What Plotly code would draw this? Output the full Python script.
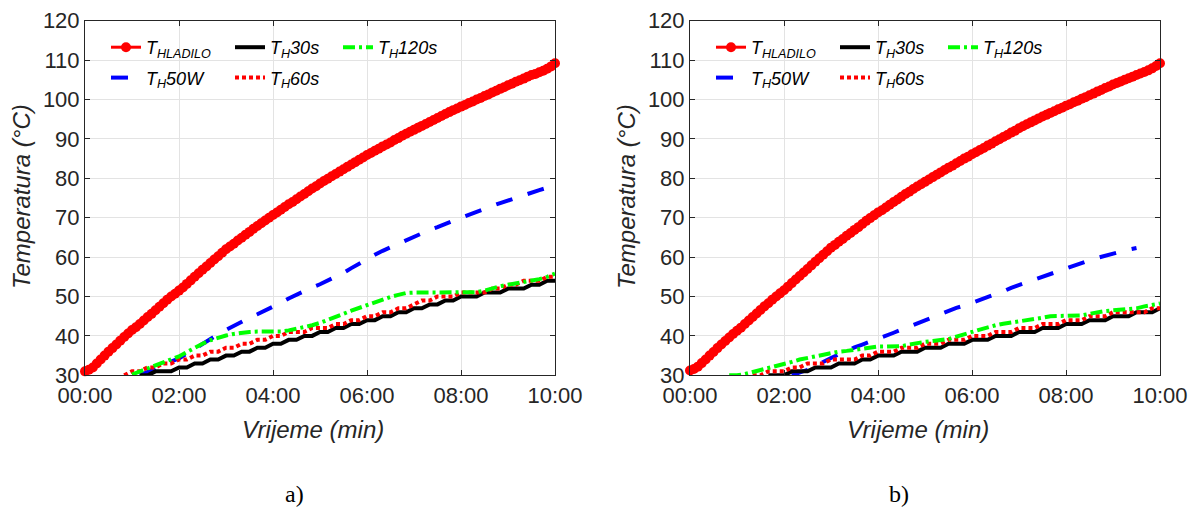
import plotly.graph_objects as go

# ---------------- data (time in seconds, temperature in °C) ----------------
t_sec = list(range(0, 601, 10))      # logging grid of the heater sensors
t_fast = list(range(0, 601, 5))      # logging grid of the cooler sensor
x_tick_vals = [0, 120, 240, 360, 480, 600]
x_tick_text = ["00:00", "02:00", "04:00", "06:00", "08:00", "10:00"]
y_tick_vals = [30, 40, 50, 60, 70, 80, 90, 100, 110, 120]

label_hladilo = "T<sub>HLADILO</sub>"
label_50w = "T<sub>H</sub>50W"
label_30s = "T<sub>H</sub>30s"
label_60s = "T<sub>H</sub>60s"
label_120s = "T<sub>H</sub>120s"

# ---- panel a) ----
a_hladilo = [31.0, 31.4, 32.0, 33.0, 34.0, 35.0, 36.0, 36.9, 37.8, 38.8, 39.7, 40.6,
             41.5, 42.2, 43.0, 43.9, 44.8, 45.6, 46.5, 47.4, 48.3, 49.2, 50.0, 50.7,
             51.5, 52.3, 53.2, 54.1, 55.0, 55.9, 56.8, 57.6, 58.5, 59.4, 60.2, 61.1,
             62.0, 62.7, 63.4, 64.2, 64.9, 65.7, 66.4, 67.2, 67.9, 68.6, 69.3, 70.0,
             70.7, 71.3, 72.0, 72.7, 73.4, 74.0, 74.7, 75.4, 76.0, 76.7, 77.4, 78.0,
             78.7, 79.3, 79.9, 80.5, 81.1, 81.7, 82.3, 82.9, 83.5, 84.1, 84.7, 85.3,
             85.9, 86.4, 87.0, 87.5, 88.1, 88.6, 89.1, 89.7, 90.2, 90.8, 91.3, 91.8,
             92.3, 92.8, 93.3, 93.8, 94.3, 94.8, 95.3, 95.8, 96.3, 96.8, 97.3, 97.7,
             98.2, 98.6, 99.1, 99.5, 100.0, 100.4, 100.9, 101.3, 101.8, 102.2, 102.7, 103.1,
             103.6, 104.0, 104.5, 104.9, 105.3, 105.8, 106.2, 106.5, 106.9, 107.3, 107.8, 108.4,
             109.2]
a_50w = [None] * 7 + [30.0, 30.8, 31.7, 32.6, 33.5, 34.3, 35.5, 36.8, 38.0, 39.2, 40.4, 41.5,
                      42.6, 43.7, 44.6, 45.5, 46.4, 47.3, 48.4, 49.5, 50.5, 51.5, 52.3, 53.1,
                      54.0, 55.0, 56.0, 57.2, 58.4, 59.6, 60.6, 61.6, 62.5, 63.4, 64.4, 65.3,
                      66.1, 66.9, 67.6, 68.3, 69.2, 70.0, 70.8, 71.5, 72.3, 73.0, 73.7, 74.4,
                      75.1, 75.8, 76.4, 77.0, 77.6, 78.2]
a_30s = [None] * 7 + [30, 30, 31, 31, 31, 32, 32, 33, 33, 34, 34, 35, 35, 36, 36, 37, 37, 38,
                      38, 39, 39, 40, 40, 41, 41, 42, 42, 43, 43, 44, 44, 45, 45, 46, 46, 47,
                      47, 48, 48, 49, 49, 50, 50, 50, 51, 51, 51, 52, 52, 52, 53, 53, 54, 54]
a_60s = [None] * 5 + [30, 31, 31, 32, 32, 33, 33, 34, 34, 35, 35, 36, 36, 37, 37, 38,
                      38, 39, 39, 40, 40, 41, 41, 41, 42, 42, 42, 43, 43, 44, 44, 45,
                      45, 46, 46, 47, 47, 48, 49, 49, 50, 50, 50, 51, 51, 51, 51, 52,
                      52, 53, 53, 54, 54, 54, 55, 55]
a_120s = [None] * 6 + [30.2, 31.0, 31.7, 32.5, 33.3, 34.0, 34.8, 35.9, 37.0, 38.0, 38.9,
                       39.6, 40.1, 40.5, 40.8, 41.0, 41.1, 41.1, 41.1, 41.1, 41.4, 41.8,
                       42.2, 42.7, 43.3, 44.0, 44.8, 45.6, 46.4, 47.1, 47.8, 48.6, 49.3,
                       49.9, 50.4, 50.9, 51.0, 51.0, 51.0, 51.0, 51.0, 51.0, 51.0, 51.0,
                       51.1, 51.5, 52.1, 52.6, 53.0, 53.3, 53.7, 54.1, 54.4, 55.0, 55.8]

# ---- panel b) ----
b_hladilo = [31.2, 31.6, 32.2, 33.1, 34.0, 35.0, 35.9, 36.9, 37.8, 38.7, 39.6, 40.5,
             41.3, 42.1, 43.0, 43.9, 44.8, 45.7, 46.6, 47.5, 48.3, 49.2, 50.0, 50.8,
             51.6, 52.5, 53.4, 54.3, 55.2, 56.1, 57.0, 57.9, 58.8, 59.7, 60.6, 61.5,
             62.4, 63.1, 63.9, 64.6, 65.4, 66.1, 66.9, 67.6, 68.4, 69.2, 69.9, 70.6,
             71.3, 71.9, 72.6, 73.3, 74.0, 74.6, 75.3, 76.0, 76.6, 77.3, 77.9, 78.5,
             79.1, 79.7, 80.3, 80.9, 81.5, 82.1, 82.7, 83.2, 83.8, 84.4, 85.0, 85.5,
             86.1, 86.6, 87.2, 87.7, 88.3, 88.8, 89.4, 89.9, 90.5, 91.0, 91.6, 92.1,
             92.7, 93.2, 93.7, 94.2, 94.7, 95.2, 95.7, 96.1, 96.6, 97.0, 97.5, 97.9,
             98.4, 98.8, 99.3, 99.7, 100.2, 100.6, 101.1, 101.5, 102.0, 102.4, 102.9, 103.3,
             103.8, 104.2, 104.6, 105.0, 105.4, 105.8, 106.2, 106.6, 107.0, 107.4, 107.9, 108.5,
             109.2]
b_50w = [None] * 13 + [30.0, 30.6, 31.4, 32.4, 33.5, 34.4, 35.3, 36.3, 37.1, 37.8, 38.5,
                       39.3, 40.0, 40.8, 41.6, 42.4, 43.2, 44.1, 44.9, 45.7, 46.5, 47.1,
                       47.7, 48.4, 49.1, 49.8, 50.5, 51.3, 52.2, 52.9, 53.6, 54.3, 55.1,
                       55.8, 56.6, 57.3, 58.0, 58.6, 59.2, 59.8, 60.4, 60.9, 61.4, 61.9,
                       62.3] + [None] * 3
b_30s = [None] * 10 + [30, 30, 30, 31, 31, 31, 32, 32, 32, 33, 33, 33, 34, 34, 35, 35, 35,
                       36, 36, 36, 37, 37, 37, 38, 38, 38, 39, 39, 39, 40, 40, 40, 41, 41,
                       41, 42, 42, 42, 43, 43, 43, 44, 44, 44, 45, 45, 45, 46, 46, 46, 47]
b_60s = [None] * 8 + [30, 30, 31, 31, 31, 32, 32, 33, 33, 33, 34, 34, 34, 34, 35, 35, 36,
                      36, 36, 37, 37, 37, 38, 38, 38, 39, 39, 39, 40, 40, 40, 41, 41, 41,
                      42, 42, 42, 43, 43, 43, 44, 44, 44, 45, 45, 45, 46, 46, 46, 46, 46,
                      47, 47]
b_120s = [None] * 5 + [30.0, 30.0, 30.3, 30.8, 31.2, 31.7, 32.3, 32.8, 33.4, 34.0, 34.4,
                       34.8, 35.3, 35.7, 36.0, 36.2, 36.5, 36.9, 37.2, 37.3, 37.3, 37.3,
                       37.4, 37.8, 38.2, 38.5, 38.7, 38.9, 39.2, 39.8, 40.5, 41.0, 41.6,
                       42.2, 42.7, 43.1, 43.4, 43.6, 43.8, 44.1, 44.6, 45.0, 45.1, 45.1,
                       45.1, 45.2, 45.6, 46.0, 46.3, 46.5, 46.6, 46.7, 47.0, 47.5, 47.9, 48.2]

# ---------------- layout geometry (pixels) ----------------
W, H = 1196, 512
AX_L = [85, 690]
AX_W = 470
AX_TOP, AX_BOT = 20.7, 375.3


def px_x(p):
    return p / W


def px_y(p):
    return 1 - p / H


SANS = "Liberation Sans, Arial, Helvetica, sans-serif"
TICK_FONT = dict(family=SANS, size=22, color="#262626")
TITLE_FONT = dict(family=SANS, size=24, color="#262626", style="italic")
LEG_FONT = dict(family=SANS, size=18, color="#000000", style="italic")

fig = go.Figure()

panels = [
    ("x", "y", [a_hladilo, a_50w, a_30s, a_60s, a_120s], ["legend2", "legend3", "legend4"]),
    ("x2", "y2", [b_hladilo, b_50w, b_30s, b_60s, b_120s], ["legend5", "legend6", "legend7"]),
]

for pi, (xa, ya, series, legs) in enumerate(panels):
    hl, w50, s30, s60, s120 = series
    fig.add_trace(go.Scatter(x=t_fast, y=hl, xaxis=xa, yaxis=ya, name=label_hladilo,
                             mode="lines+markers", line=dict(color="#ff0000", width=3),
                             marker=dict(symbol="circle", size=10, color="#ff0000"),
                             cliponaxis=False, legend=legs[0], legendgroup=f"hl{pi}"))
    fig.add_trace(go.Scatter(x=t_sec, y=w50, xaxis=xa, yaxis=ya, name=label_50w,
                             mode="lines", line=dict(color="#0000ff", width=4, dash="17px,16px"),
                             legend=legs[0], legendgroup=f"w50{pi}"))
    fig.add_trace(go.Scatter(x=t_sec, y=s30, xaxis=xa, yaxis=ya, name=label_30s,
                             mode="lines", line=dict(color="#000000", width=4),
                             legend=legs[1], legendgroup=f"s30{pi}"))
    fig.add_trace(go.Scatter(x=t_sec, y=s60, xaxis=xa, yaxis=ya, name=label_60s,
                             mode="lines", line=dict(color="#ff0000", width=4, dash="4px,3px"),
                             legend=legs[1], legendgroup=f"s60{pi}"))
    fig.add_trace(go.Scatter(x=t_sec, y=s120, xaxis=xa, yaxis=ya, name=label_120s,
                             mode="lines", line=dict(color="#00ff00", width=4,
                                                     dash="12px,4px,3px,4px"),
                             legend=legs[2], legendgroup=f"s120{pi}"))

axis_common = dict(showline=True, linecolor="#262626", linewidth=1, mirror="ticks",
                   ticks="inside", ticklen=5, tickwidth=1, tickcolor="#262626",
                   showgrid=True, gridcolor="#e3e3e3", gridwidth=1, zeroline=False,
                   tickfont=TICK_FONT, automargin=False)

ydom = [px_y(AX_BOT), px_y(AX_TOP)]
layout_axes = {}
for i, (xa, ya) in enumerate([("xaxis", "yaxis"), ("xaxis2", "yaxis2")]):
    layout_axes[xa] = dict(axis_common, domain=[px_x(AX_L[i]), px_x(AX_L[i] + AX_W)],
                           range=[0, 600], tickvals=x_tick_vals, ticktext=x_tick_text,
                           anchor="y" if i == 0 else "y2")
    layout_axes[ya] = dict(axis_common, domain=ydom, range=[30, 120], tickvals=y_tick_vals,
                           anchor="x" if i == 0 else "x2")

leg_common = dict(font=LEG_FONT, bgcolor="rgba(0,0,0,0)", borderwidth=0,
                  orientation="v", xanchor="left", yanchor="top", tracegroupgap=4,
                  traceorder="grouped")
col_offsets = [21, 145, 253]
legend_layout = {}
leg_names = ["legend2", "legend3", "legend4", "legend5", "legend6", "legend7"]
k = 0
for i in range(2):
    for c in range(3):
        legend_layout[leg_names[k]] = dict(leg_common, x=px_x(AX_L[i] + col_offsets[c]),
                                           y=px_y(29))
        k += 1

annotations = []
for i, lab in enumerate(["a)", "b)"]):
    cx = AX_L[i] + AX_W / 2
    annotations.append(dict(text="Vrijeme (min)", x=px_x(cx - 7), y=px_y(429),
                            xref="paper", yref="paper", showarrow=False,
                            xanchor="center", yanchor="middle", font=TITLE_FONT))
    annotations.append(dict(text="Temperatura (°C)", x=px_x(AX_L[i] - 64), y=px_y(197),
                            xref="paper", yref="paper", showarrow=False, textangle=-90,
                            xanchor="center", yanchor="middle", font=TITLE_FONT))
    annotations.append(dict(text=lab, x=px_x(AX_L[i] + 209), y=px_y(494),
                            xref="paper", yref="paper", showarrow=False,
                            xanchor="center", yanchor="middle",
                            font=dict(family="Liberation Serif, Times New Roman, serif",
                                      size=24, color="#000000")))

fig.update_layout(width=W, height=H, autosize=False,
                  margin=dict(l=0, r=0, t=0, b=0, autoexpand=False),
                  paper_bgcolor="white", plot_bgcolor="white",
                  showlegend=True, annotations=annotations,
                  **layout_axes, **legend_layout)

fig.write_html("out.html", config={"displayModeBar": False},
               post_script="document.body.style.margin='0';"
                           "document.body.style.overflow='hidden';")
